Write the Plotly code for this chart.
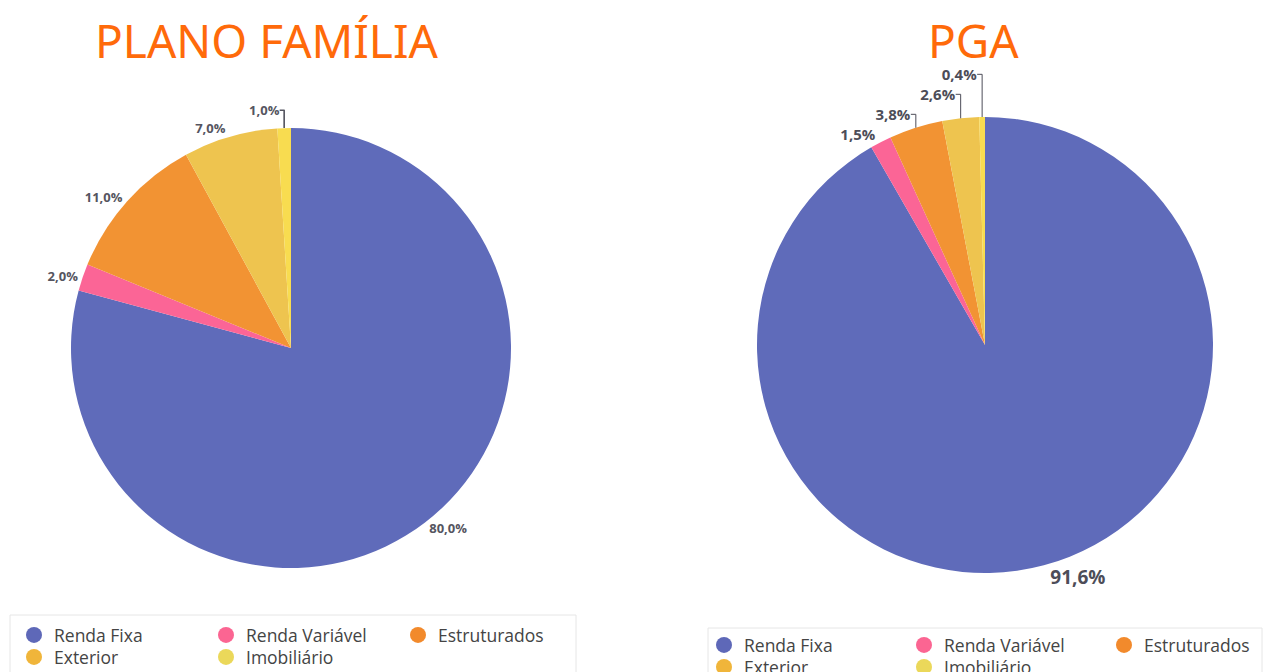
import plotly.graph_objects as go

# ---- data ----
categories = ["Renda Fixa", "Renda Variável", "Estruturados", "Exterior", "Imobiliário"]
plano_familia_values = [80.0, 2.0, 11.0, 7.0, 1.0]
pga_values = [91.6, 1.5, 3.8, 2.6, 0.4]
titles = ["PLANO FAMÍLIA", "PGA"]

colors = ["#5f6bba", "#fb6596", "#f29333", "#eec44f", "#f8dc50"]
legend_colors = ["#5e68b8", "#fb6592", "#f28a2c", "#f0b53a", "#ebd85a"]

W, H = 1288, 672

fig = go.Figure()

def px_dom_x(a, b):
    return [a / W, b / W]

def px_dom_y(top, bottom):
    return [(H - bottom) / H, (H - top) / H]

fig.add_trace(go.Pie(
    labels=categories, values=plano_familia_values,
    sort=False, direction="clockwise", rotation=0,
    marker=dict(colors=colors, line=dict(width=0)),
    textposition="outside", texttemplate="%{value:.1f}%",
    textfont=dict(family="Open Sans", size=13, color="#555560", weight="bold"),
    domain=dict(x=px_dom_x(71, 511), y=px_dom_y(128, 568)),
    showlegend=False, hoverinfo="label+value",
))
fig.add_trace(go.Pie(
    labels=categories, values=pga_values,
    sort=False, direction="clockwise", rotation=0,
    marker=dict(colors=colors, line=dict(width=0)),
    textposition="outside", texttemplate="%{value:.1f}%",
    textfont=dict(family="Open Sans", size=[19, 15, 15, 15, 15],
                  color="#4d4d58", weight="bold"),
    domain=dict(x=px_dom_x(757, 1213), y=px_dom_y(117, 573)),
    showlegend=False, hoverinfo="label+value",
))

# legend entries (circle markers), split into rows of 3 for each chart
legend_rows = [("legend", "legend2"), ("legend3", "legend4")]
for side in range(2):
    for i, (cat, col) in enumerate(zip(categories, legend_colors)):
        fig.add_trace(go.Scatter(
            x=[None], y=[None], mode="markers", name=cat,
            marker=dict(symbol="circle", size=16, color=col),
            legend=legend_rows[side][0 if i < 3 else 1],
            showlegend=True, hoverinfo="skip",
        ))

leg_font = dict(family="Open Sans", size=17.5, color="#444444")

def mk_legend(xpx, ycenter, entryw):
    return dict(
        orientation="h", x=xpx / W, xanchor="left",
        y=(H - ycenter) / H, yanchor="middle",
        entrywidth=entryw, entrywidthmode="pixels",
        font=leg_font, bgcolor="rgba(0,0,0,0)", borderwidth=0,
        itemsizing="trace", itemclick=False, itemdoubleclick=False,
    )

fig.update_layout(
    width=W, height=H,
    margin=dict(l=0, r=0, t=0, b=0, autoexpand=False),
    paper_bgcolor="white", plot_bgcolor="white",
    separators=",.",
    xaxis=dict(visible=False), yaxis=dict(visible=False),
    legend=mk_legend(14, 635, 147),
    legend2=mk_legend(14, 657, 147),
    legend3=mk_legend(704, 645, 155),
    legend4=mk_legend(704, 667, 155),
    shapes=[
        dict(type="rect", xref="paper", yref="paper",
             x0=10 / W, x1=576 / W, y0=-0.05, y1=(H - 615) / H,
             line=dict(color="#e6e6e6", width=1), fillcolor="rgba(0,0,0,0)", layer="below"),
        dict(type="rect", xref="paper", yref="paper",
             x0=708 / W, x1=1262 / W, y0=-0.05, y1=(H - 628) / H,
             line=dict(color="#e6e6e6", width=1), fillcolor="rgba(0,0,0,0)", layer="below"),
    ],
    annotations=[
        dict(text=titles[0], x=267 / W, y=(H - 40) / H, xref="paper", yref="paper",
             showarrow=False, xanchor="center", yanchor="middle",
             font=dict(family="Noto Sans", size=46, color="#ff6a0a")),
        dict(text=titles[1], x=973 / W, y=(H - 40) / H, xref="paper", yref="paper",
             showarrow=False, xanchor="center", yanchor="middle",
             font=dict(family="Noto Sans", size=46, color="#ff6a0a")),
    ],
)

fig.write_html("out.html", config={"displayModeBar": False},
               post_script="document.body.style.margin='0';")
